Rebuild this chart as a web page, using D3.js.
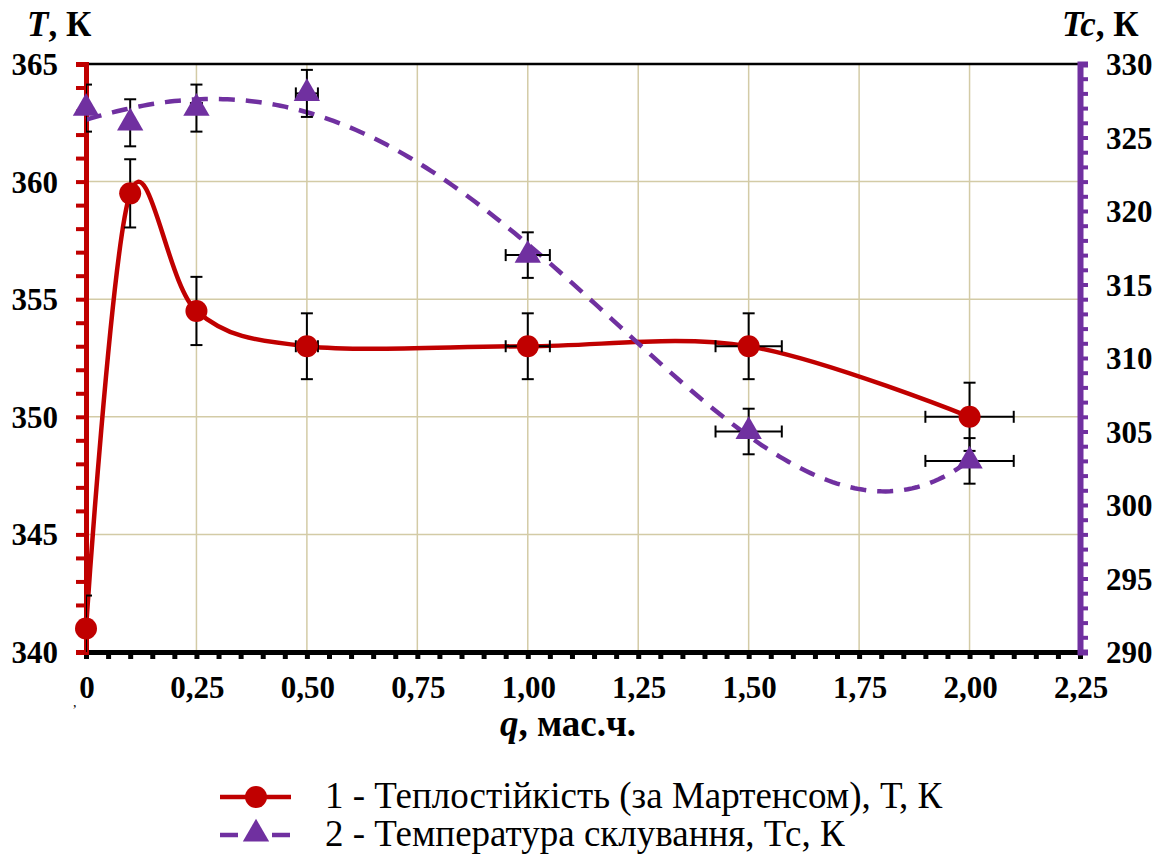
<!DOCTYPE html>
<html>
<head>
<meta charset="utf-8">
<script src="https://cdn.jsdelivr.net/npm/d3@7"></script>
<style>
  body { margin: 0; background: #fff; }
  svg, text { font-family: "Liberation Serif", "Times New Roman", serif; }
</style>
</head>
<body>
<div id="chart"></div>
<script>
// data
const qValues = [0, 0.1, 0.25, 0.5, 1.0, 1.5, 2.0];
const tValues = [341, 359.5, 354.5, 353, 353, 353, 350];
const tErrors = [1.4, 1.45, 1.45, 1.4, 1.4, 1.4, 1.45];
const tcValues = [327, 326, 327, 328, 317, 305, 303];
const tcErrors = [1.6, 1.6, 1.6, 1.6, 1.55, 1.55, 1.55];
const qErrorShare = 0.05; // horizontal bars = 5 % of q
const tcTrendDegree = 4;  // polynomial trendline of series 2

const qTicks = [0, 0.25, 0.5, 0.75, 1, 1.25, 1.5, 1.75, 2, 2.25];
const qTickLabels = ["0", "0,25", "0,50", "0,75", "1,00", "1,25", "1,50", "1,75", "2,00", "2,25"];
const tTicks = [340, 345, 350, 355, 360, 365];
const tcTicks = [290, 295, 300, 305, 310, 315, 320, 325, 330];
const legendLabels = [
  "1 - Теплостійкість (за Мартенсом), Т, К",
  "2 - Температура склування, Тс, К"
];

const red = "#c00000", purple = "#7030a0", gridColor = "#d3cba6";

var w = 1168, h = 859;
var mLeft = 86, mRight = 1080, mTop = 64, mBottom = 652;

var x = d3.scaleLinear().domain([0, 2.25]).range([mLeft, mRight]);
var yT = d3.scaleLinear().domain([340, 365]).range([mBottom, mTop]);
var yTc = d3.scaleLinear().domain([290, 330]).range([mBottom, mTop]);

var svg = d3.select("#chart").append("svg")
  .attr("width", w).attr("height", h)
  .attr("font-family", "Liberation Serif, Times New Roman, serif");

svg.append("clipPath").attr("id", "plotClip")
  .append("rect").attr("x", mLeft).attr("y", mTop - 20)
  .attr("width", mRight - mLeft + 20).attr("height", mBottom - mTop + 20);

// grid
var grid = svg.append("g").attr("stroke", gridColor).attr("stroke-width", 1.5);
grid.selectAll(".vg").data(qTicks.slice(1, -1)).enter().append("line")
  .attr("x1", d => x(d)).attr("x2", d => x(d)).attr("y1", mTop).attr("y2", mBottom);
grid.selectAll(".hg").data(tTicks.slice(1, -1)).enter().append("line")
  .attr("x1", mLeft).attr("x2", mRight).attr("y1", d => yT(d)).attr("y2", d => yT(d));

svg.append("line").attr("x1", mLeft).attr("x2", mRight).attr("y1", mTop).attr("y2", mTop)
  .attr("stroke", "#000").attr("stroke-width", 2.5);

// axes
var xAxis = d3.axisBottom(x).tickValues(d3.range(0, 2.2501, 0.05)).tickSize(7).tickFormat("");
var gx = svg.append("g").attr("transform", "translate(0," + mBottom + ")").call(xAxis);
gx.select(".domain").attr("stroke", "#000").attr("stroke-width", 5);
gx.selectAll(".tick line").attr("stroke", "#000").attr("stroke-width", 5);

var tAxis = d3.axisLeft(yT).tickValues(d3.range(340, 365.01, 1)).tickSize(10).tickFormat("");
var gl = svg.append("g").attr("transform", "translate(" + mLeft + ",0)").call(tAxis);
gl.select(".domain").attr("stroke", red).attr("stroke-width", 5);
gl.selectAll(".tick line").attr("stroke", red).attr("stroke-width", 4);

var tcAxis = d3.axisRight(yTc).tickValues(d3.range(290, 330.01, 1)).tickSize(8).tickFormat("");
var gr = svg.append("g").attr("transform", "translate(" + mRight + ",0)").call(tcAxis);
gr.select(".domain").attr("stroke", purple).attr("stroke-width", 6);
gr.selectAll(".tick line").attr("stroke", purple).attr("stroke-width", 4);

// tick labels
svg.append("g").selectAll("text").data(qTicks).enter().append("text")
  .attr("x", d => x(d) + 1).attr("y", 698).attr("text-anchor", "middle")
  .attr("font-size", 31).attr("font-weight", "bold").text((d, i) => qTickLabels[i]);
svg.append("g").selectAll("text").data(tTicks).enter().append("text")
  .attr("x", 58).attr("y", d => yT(d) + 11).attr("text-anchor", "end")
  .attr("font-size", 31).attr("font-weight", "bold").text(d => d);
svg.append("g").selectAll("text").data(tcTicks).enter().append("text")
  .attr("x", 1106).attr("y", d => yTc(d) + 11)
  .attr("font-size", 31).attr("font-weight", "bold").text(d => d);
svg.append("text").attr("x", 73).attr("y", 707).attr("font-size", 14).text(",");

// axis titles
var tt = svg.append("text").attr("x", 27).attr("y", 36).attr("font-size", 35).attr("font-weight", "bold");
tt.append("tspan").attr("font-style", "italic").text("T");
tt.append("tspan").text(", К");
var tc = svg.append("text").attr("x", 1062).attr("y", 36).attr("font-size", 35).attr("font-weight", "bold");
tc.append("tspan").attr("font-style", "italic").text("Tc");
tc.append("tspan").text(", К");
var qt = svg.append("text").attr("x", 568).attr("y", 736).attr("text-anchor", "middle")
  .attr("font-size", 37).attr("font-weight", "bold");
qt.append("tspan").attr("font-style", "italic").text("q");
qt.append("tspan").text(", мас.ч.");

// least squares polynomial (trendline of Tc)
function polyFit(xs, ys, deg) {
  var n = deg + 1, A = [];
  for (var i = 0; i < n; i++) {
    A.push([]);
    for (var j = 0; j < n; j++) A[i].push(d3.sum(xs, v => Math.pow(v, i + j)));
    A[i].push(d3.sum(xs, (v, k) => Math.pow(v, i) * ys[k]));
  }
  for (var c = 0; c < n; c++) {
    var p = c;
    for (var r = c + 1; r < n; r++) if (Math.abs(A[r][c]) > Math.abs(A[p][c])) p = r;
    var tmp = A[c]; A[c] = A[p]; A[p] = tmp;
    for (var r2 = 0; r2 < n; r2++) {
      if (r2 === c) continue;
      var f = A[r2][c] / A[c][c];
      for (var k = c; k <= n; k++) A[r2][k] -= f * A[c][k];
    }
  }
  return A.map((row, i) => row[n] / row[i]);
}
function polyAt(coef, v) {
  return coef.reduce((s, a, i) => s + a * Math.pow(v, i), 0);
}

// red smoothed line
var tPts = qValues.map((q, i) => [q, tValues[i]]);
svg.append("path").datum(tPts)
  .attr("d", d3.line().x(d => x(d[0])).y(d => yT(d[1])).curve(d3.curveCardinal.tension(0)))
  .attr("fill", "none").attr("stroke", red).attr("stroke-width", 4.5);

// purple dashed trendline
var coef = polyFit(qValues, tcValues, tcTrendDegree);
var trendQ = d3.range(0, d3.max(qValues) + 0.0001, 0.01);
svg.append("path").datum(trendQ.map(q => [q, polyAt(coef, q)]))
  .attr("d", d3.line().x(d => x(d[0])).y(d => yTc(d[1])))
  .attr("fill", "none").attr("stroke", purple).attr("stroke-width", 4.5)
  .attr("stroke-dasharray", "16,11");

// error bars
function errorBars(vals, errs, y) {
  var g = svg.append("g").attr("clip-path", "url(#plotClip)")
    .attr("stroke", "#000").attr("stroke-width", 2);
  qValues.forEach(function (q, i) {
    var cx = x(q), cy = y(vals[i]);
    var y1 = y(vals[i] + errs[i]), y2 = y(vals[i] - errs[i]);
    g.append("line").attr("x1", cx).attr("x2", cx).attr("y1", y1).attr("y2", y2);
    g.append("line").attr("x1", cx - 6).attr("x2", cx + 6).attr("y1", y1).attr("y2", y1);
    g.append("line").attr("x1", cx - 6).attr("x2", cx + 6).attr("y1", y2).attr("y2", y2);
    var dx = q * qErrorShare;
    if (dx > 0) {
      var x1 = x(q - dx), x2 = x(q + dx);
      g.append("line").attr("x1", x1).attr("x2", x2).attr("y1", cy).attr("y2", cy);
      g.append("line").attr("x1", x1).attr("x2", x1).attr("y1", cy - 6).attr("y2", cy + 6);
      g.append("line").attr("x1", x2).attr("x2", x2).attr("y1", cy - 6).attr("y2", cy + 6);
    }
  });
}
errorBars(tValues, tErrors, yT);
errorBars(tcValues, tcErrors, yTc);

// markers
svg.append("g").selectAll("circle").data(qValues).enter().append("circle")
  .attr("cx", d => x(d)).attr("cy", (d, i) => yT(tValues[i])).attr("r", 11)
  .attr("fill", red);
var tri = d3.symbol().type(d3.symbolTriangle).size(300);
svg.append("g").selectAll("path").data(qValues).enter().append("path")
  .attr("d", tri)
  .attr("transform", (d, i) => "translate(" + x(d) + "," + yTc(tcValues[i]) + ")")
  .attr("fill", purple);

// legend
var lg = svg.append("g");
lg.append("line").attr("x1", 220).attr("x2", 291).attr("y1", 797).attr("y2", 797)
  .attr("stroke", red).attr("stroke-width", 4.5);
lg.append("circle").attr("cx", 256).attr("cy", 797).attr("r", 11).attr("fill", red);
lg.append("line").attr("x1", 220).attr("x2", 291).attr("y1", 835).attr("y2", 835)
  .attr("stroke", purple).attr("stroke-width", 4.5).attr("stroke-dasharray", "18,34");
lg.append("path").attr("d", tri).attr("transform", "translate(256,834)").attr("fill", purple);
lg.selectAll("text").data(legendLabels).enter().append("text")
  .attr("x", 325).attr("y", (d, i) => 808 + i * 38)
  .attr("font-size", 37).text(d => d);
</script>
</body>
</html>
